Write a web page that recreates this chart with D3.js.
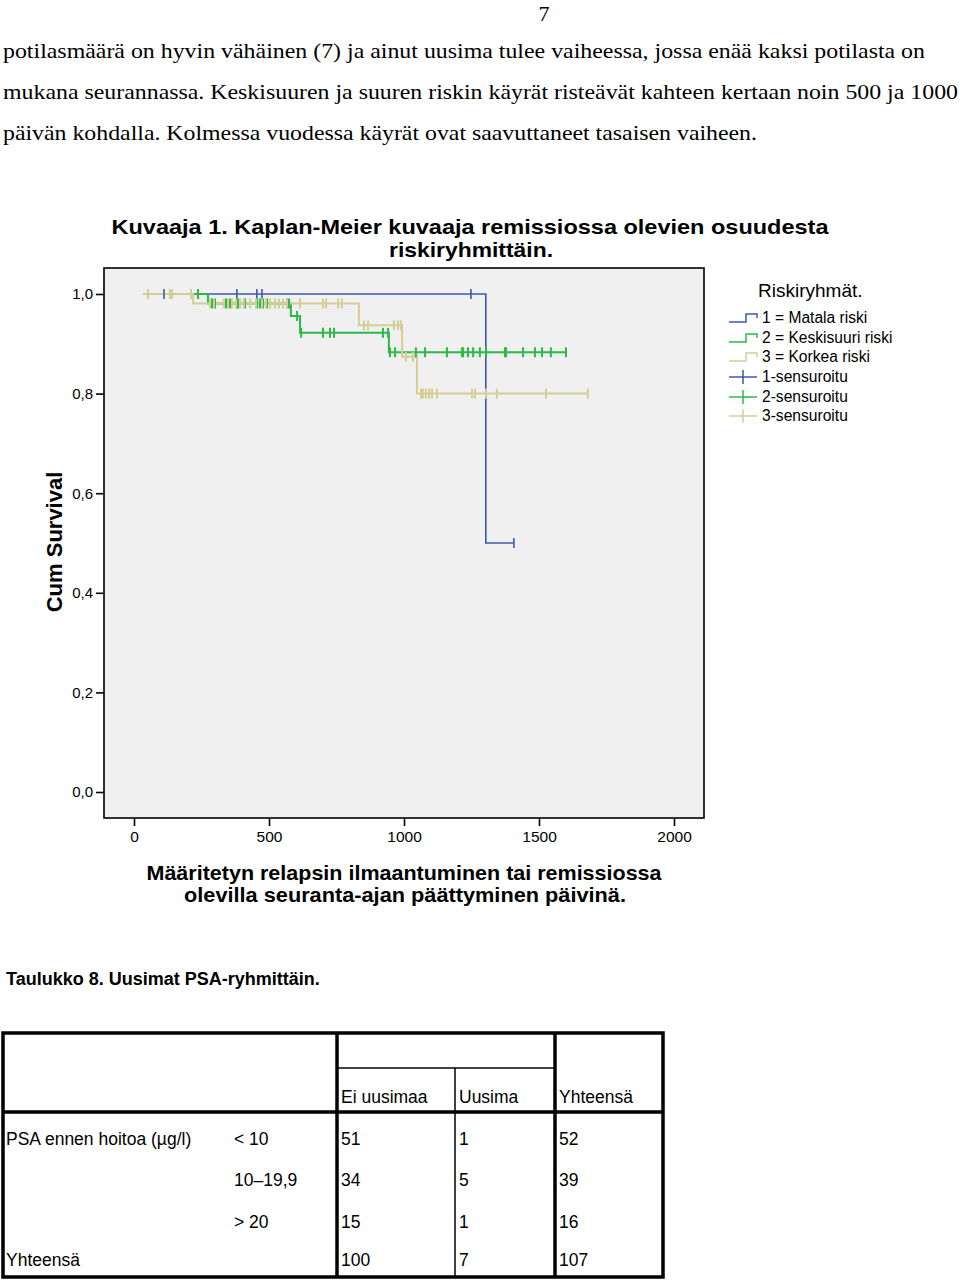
<!DOCTYPE html>
<html><head><meta charset="utf-8">
<script src="https://cdn.jsdelivr.net/npm/d3@7"></script>
<style>body{margin:0;background:#fff}svg{display:block}</style>
</head><body>
<script>
// ---------- data ----------
const pageNumber = "7";
const paragraphLines = [
  "potilasmäärä on hyvin vähäinen (7) ja ainut uusima tulee vaiheessa, jossa enää kaksi potilasta on",
  "mukana seurannassa. Keskisuuren ja suuren riskin käyrät risteävät kahteen kertaan noin 500 ja 1000",
  "päivän kohdalla. Kolmessa vuodessa käyrät ovat saavuttaneet tasaisen vaiheen."
];
const chartTitle = ["Kuvaaja 1. Kaplan-Meier kuvaaja remissiossa olevien osuudesta", "riskiryhmittäin."];
const yAxisTitle = "Cum Survival";
const xAxisTitle = ["Määritetyn relapsin ilmaantuminen tai remissiossa", "olevilla seuranta-ajan päättyminen päivinä."];
const xTicks = [0, 500, 1000, 1500, 2000];
const yTicks = [0, 0.2, 0.4, 0.6, 0.8, 1.0];
const legendTitle = "Riskiryhmät.";
const groupNames = ["1 = Matala riski", "2 = Keskisuuri riski", "3 = Korkea riski"];
const censorNames = ["1-sensuroitu", "2-sensuroitu", "3-sensuroitu"];
const groupColors = ["#3E58AC", "#2EB848", "#D3CE97"];

// step curves: [day, cumulative survival from that day on]
const curve1 = [[111, 1.0], [1303, 0.5], [1407, 0.5]];
const curve2 = [[228, 1.0], [274, 0.981], [581, 0.956], [615, 0.922], [944, 0.883], [1600, 0.883]];
const curve3 = [[33, 1.0], [219, 0.981], [833, 0.937], [993, 0.874], [1048, 0.80], [1681, 0.80]];
// censored observation days
const censored1 = [111, 381, 455, 474, 1248, 1407];
const censored2 = [237, 289, 300, 341, 356, 381, 385, 411, 456, 467, 478, 493, 567, 574, 604,
  619, 700, 726, 741, 922, 941, 948, 967, 1044, 1078, 1159, 1215, 1219, 1237, 1256, 1281, 1304,
  1374, 1378, 1441, 1485, 1511, 1544, 1600];
const censored3 = [52, 133, 141, 211, 281, 296, 333, 348, 363, 378, 393, 407, 430, 452, 474, 489,
  504, 522, 537, 552, 567, 615, 700, 711, 756, 770, 852, 867, 963, 978, 989, 1007, 1033, 1063,
  1070, 1081, 1093, 1104, 1122, 1252, 1263, 1304, 1344, 1526, 1681];

const tableCaption = "Taulukko 8. Uusimat PSA-ryhmittäin.";
const tableHeaders = ["Ei uusimaa", "Uusima", "Yhteensä"];
const rowLabel = "PSA ennen hoitoa (µg/l)";
const psaGroups = ["< 10", "10–19,9", "> 20"];
const totalLabel = "Yhteensä";
const eiUusimaa = [51, 34, 15, 100];
const uusima = [1, 5, 1, 7];
const yhteensa = [52, 39, 16, 107];

// ---------- drawing ----------
const W = 960, H = 1281;
const sans = "'Liberation Sans', Arial, sans-serif";
const serif = "'Liberation Serif', 'Times New Roman', serif";
const svg = d3.select("body").append("svg").attr("width", W).attr("height", H);

// text above
svg.append("text").attr("x", 544).attr("y", 21).attr("text-anchor", "middle")
  .style("font-family", serif).style("font-size", "22px").text(pageNumber);
const paraBase = [58, 99, 140];
const paraWidth = [922, 955, 754];
paragraphLines.forEach((t, i) => {
  svg.append("text").attr("x", 3).attr("y", paraBase[i])
    .attr("textLength", paraWidth[i]).attr("lengthAdjust", "spacingAndGlyphs")
    .style("font-family", serif).style("font-size", "22px").text(t);
});

// chart title
svg.append("text").attr("x", 470).attr("y", 234).attr("text-anchor", "middle")
  .attr("textLength", 717).attr("lengthAdjust", "spacingAndGlyphs")
  .style("font-family", sans).style("font-weight", "bold").style("font-size", "21px").text(chartTitle[0]);
svg.append("text").attr("x", 471).attr("y", 257).attr("text-anchor", "middle")
  .attr("textLength", 164).attr("lengthAdjust", "spacingAndGlyphs")
  .style("font-family", sans).style("font-weight", "bold").style("font-size", "21px").text(chartTitle[1]);

// plot frame
const box = {l: 104, r: 704, t: 268, b: 818};
const x = d3.scaleLinear().domain([0, 2000]).range([134, 674]);
const y = d3.scaleLinear().domain([0, 1]).range([792, 294]);

svg.append("rect").attr("x", box.l).attr("y", box.t).attr("width", box.r - box.l).attr("height", box.b - box.t)
  .attr("fill", "#F0F0F0").attr("stroke", "#000").attr("stroke-width", 1.6);

// axes
const yAxis = svg.append("g").attr("transform", `translate(${box.l},0)`)
  .call(d3.axisLeft(y).tickValues(yTicks).tickSize(8).tickPadding(3)
    .tickFormat(d => d3.format(".1f")(d).replace(".", ",")));
yAxis.select(".domain").remove();
yAxis.selectAll("line").attr("stroke", "#000").attr("stroke-width", 1.6);
yAxis.selectAll("text").style("font-family", sans).style("font-size", "15px").attr("fill", "#000");

const xAxis = svg.append("g").attr("transform", `translate(0,${box.b})`)
  .call(d3.axisBottom(x).tickValues(xTicks).tickSize(8).tickPadding(5).tickFormat(d3.format("d")));
xAxis.select(".domain").remove();
xAxis.selectAll("line").attr("stroke", "#000").attr("stroke-width", 1.6);
xAxis.selectAll("text").style("font-family", sans).style("font-size", "15.5px").attr("fill", "#000");

// axis titles
svg.append("text").attr("transform", "translate(62,542) rotate(-90)").attr("text-anchor", "middle")
  .style("font-family", sans).style("font-weight", "bold").style("font-size", "22px").text(yAxisTitle);
svg.append("text").attr("x", 404).attr("y", 880).attr("text-anchor", "middle")
  .attr("textLength", 515).attr("lengthAdjust", "spacingAndGlyphs")
  .style("font-family", sans).style("font-weight", "bold").style("font-size", "21px").text(xAxisTitle[0]);
svg.append("text").attr("x", 405).attr("y", 902).attr("text-anchor", "middle")
  .attr("textLength", 442).attr("lengthAdjust", "spacingAndGlyphs")
  .style("font-family", sans).style("font-weight", "bold").style("font-size", "21px").text(xAxisTitle[1]);

// curves
const curves = [curve1, curve2, curve3];
const censors = [censored1, censored2, censored3];
const widths = [1.6, 2, 2];
const stepLine = d3.line().x(d => x(d[0])).y(d => y(d[1])).curve(d3.curveStepAfter);
function survAt(curve, t) {
  let s = curve[0][1];
  for (const p of curve) if (p[0] <= t) s = p[1];
  return s;
}
curves.forEach((c, i) => {
  svg.append("path").attr("d", stepLine(c)).attr("fill", "none")
    .attr("stroke", groupColors[i]).attr("stroke-width", widths[i]);
});
censors.forEach((cs, i) => {
  svg.append("g").selectAll("line").data(cs).join("line")
    .attr("x1", d => x(d)).attr("x2", d => x(d))
    .attr("y1", d => y(survAt(curves[i], d)) - 5).attr("y2", d => y(survAt(curves[i], d)) + 5)
    .attr("stroke", groupColors[i]).attr("stroke-width", widths[i]);
});

// legend
const lg = svg.append("g");
lg.append("text").attr("x", 758).attr("y", 297).style("font-family", sans).style("font-size", "19px").text(legendTitle);
const rowY = [318, 338, 357, 377, 397, 416];
groupNames.forEach((n, i) => {
  const yy = rowY[i];
  lg.append("path").attr("d", `M729,${yy + 4}H746V${yy - 4}H757V${yy}`).attr("fill", "none")
    .attr("stroke", groupColors[i]).attr("stroke-width", 1.5);
  lg.append("text").attr("x", 762).attr("y", yy + 5).style("font-family", sans).style("font-size", "15.6px").text(n);
});
censorNames.forEach((n, i) => {
  const yy = rowY[i + 3];
  lg.append("line").attr("x1", 729).attr("x2", 757).attr("y1", yy).attr("y2", yy)
    .attr("stroke", groupColors[i]).attr("stroke-width", 1.5);
  lg.append("line").attr("x1", 743).attr("x2", 743).attr("y1", yy - 7).attr("y2", yy + 7)
    .attr("stroke", groupColors[i]).attr("stroke-width", 1.5);
  lg.append("text").attr("x", 762).attr("y", yy + 5).style("font-family", sans).style("font-size", "15.6px").text(n);
});

// table
svg.append("text").attr("x", 6).attr("y", 985).style("font-family", sans).style("font-weight", "bold")
  .style("font-size", "18px").text(tableCaption);
const tb = svg.append("g");
const thick = 3.5, thin = 1.5;
function ln(x1, y1, x2, y2, w) {
  tb.append("line").attr("x1", x1).attr("y1", y1).attr("x2", x2).attr("y2", y2)
    .attr("stroke", "#000").attr("stroke-width", w);
}
tb.append("rect").attr("x", 3).attr("y", 1033).attr("width", 660).attr("height", 244)
  .attr("fill", "none").attr("stroke", "#000").attr("stroke-width", thick);
ln(3, 1112, 663, 1112, thick);
ln(337, 1033, 337, 1277, thick);
ln(555, 1033, 555, 1277, thick);
ln(337, 1068, 555, 1068, thin);
ln(455, 1068, 455, 1277, thin);
const colX = [341, 459, 559];
const tfs = "17.5px";
tableHeaders.forEach((h, i) => {
  tb.append("text").attr("x", colX[i]).attr("y", 1103).style("font-family", sans).style("font-size", tfs).text(h);
});
const rowBase = [1145, 1186, 1228, 1266];
tb.append("text").attr("x", 6).attr("y", rowBase[0]).style("font-family", sans).style("font-size", tfs).text(rowLabel);
psaGroups.forEach((g, i) => {
  tb.append("text").attr("x", 234).attr("y", rowBase[i]).style("font-family", sans).style("font-size", tfs).text(g);
});
tb.append("text").attr("x", 6).attr("y", rowBase[3]).style("font-family", sans).style("font-size", tfs).text(totalLabel);
[eiUusimaa, uusima, yhteensa].forEach((col, c) => {
  col.forEach((v, r) => {
    tb.append("text").attr("x", colX[c]).attr("y", rowBase[r]).style("font-family", sans).style("font-size", tfs).text(v);
  });
});
</script>
</body></html>
